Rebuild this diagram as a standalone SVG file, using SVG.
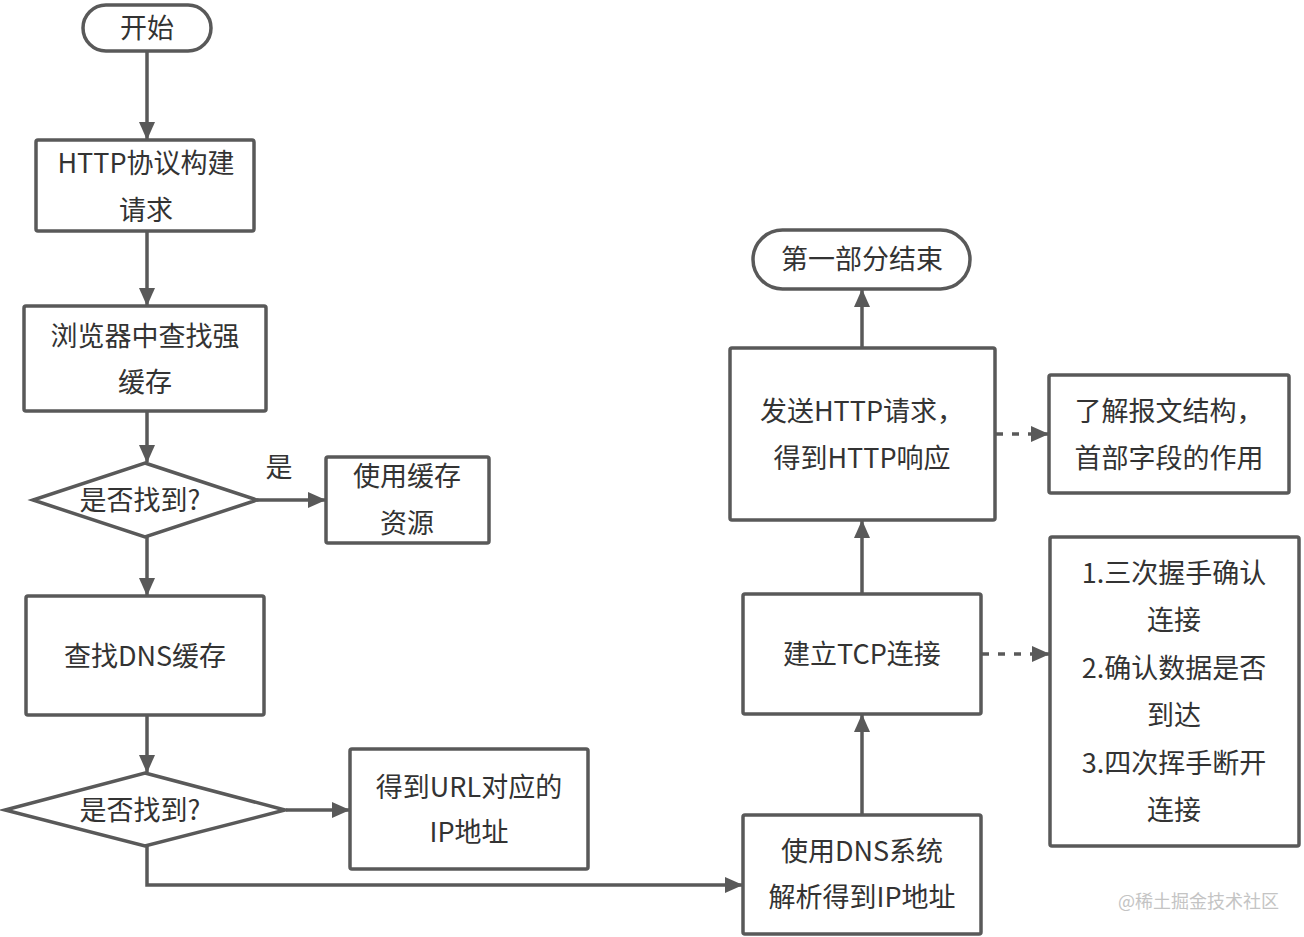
<svg xmlns="http://www.w3.org/2000/svg" width="1304" height="937" viewBox="0 0 1304 937">
<style>
.n{fill:#fff;stroke:#595959;stroke-width:3.5}
.t{font-family:"Noto Sans CJK SC","Noto Sans",sans-serif;font-size:27px;fill:#333;text-anchor:middle;dominant-baseline:central}
.c{fill:none;stroke:#595959;stroke-width:3.5}
.d{stroke-dasharray:7 9}
.wm{font-family:"Noto Sans CJK SC",sans-serif;font-size:18px;fill:#c4c4c4}
</style>
<defs>
<marker id="a" markerUnits="userSpaceOnUse" markerWidth="18" markerHeight="16" refX="17" refY="8" orient="auto">
<path d="M0,0 L18,8 L0,16 Z" fill="#595959"/>
</marker>
</defs>
<g id="connectors">
<path class="c" d="M147,51 V139" marker-end="url(#a)"/>
<path class="c" d="M147,231 V305" marker-end="url(#a)"/>
<path class="c" d="M147,411 V462" marker-end="url(#a)"/>
<path class="c" d="M257,500 H325" marker-end="url(#a)"/>
<path class="c" d="M147,537 V595" marker-end="url(#a)"/>
<path class="c" d="M147,715 V772" marker-end="url(#a)"/>
<path class="c" d="M286,810 H349" marker-end="url(#a)"/>
<path class="c" d="M147,846 V885 H742" marker-end="url(#a)"/>
<path class="c" d="M862,815 V715" marker-end="url(#a)"/>
<path class="c" d="M862,594 V521" marker-end="url(#a)"/>
<path class="c" d="M862,348 V290" marker-end="url(#a)"/>
<path class="c d" d="M982,654 H1049" marker-end="url(#a)"/>
<path class="c d" d="M996,434 H1048" marker-end="url(#a)"/>
<text class="t" x="279" y="465">是</text>
</g>
<g id="start"><rect class="n" x="83" y="5" width="128" height="46" rx="23"/><text class="t" x="147" y="26">开始</text></g>
<g id="build"><rect class="n" x="36" y="140" width="218" height="91" rx="2"/><text class="t" x="146" y="161">HTTP协议构建</text><text class="t" x="146" y="208">请求</text></g>
<g id="strongcache"><rect class="n" x="24" y="306" width="242" height="105" rx="2"/><text class="t" x="145" y="334">浏览器中查找强</text><text class="t" x="145" y="380">缓存</text></g>
<g id="found1"><polygon class="n" points="145,463 257,500 145,537 33,500"/><text class="t" x="140" y="498">是否找到?</text></g>
<g id="usecache"><rect class="n" x="326" y="457" width="163" height="86" rx="2"/><text class="t" x="407" y="474">使用缓存</text><text class="t" x="407" y="521">资源</text></g>
<g id="dnscache"><rect class="n" x="26" y="596" width="238" height="119" rx="2"/><text class="t" x="145" y="654">查找DNS缓存</text></g>
<g id="found2"><polygon class="n" points="145,773 285,810 145,846 5,810"/><text class="t" x="140" y="808">是否找到?</text></g>
<g id="getip"><rect class="n" x="350" y="749" width="238" height="120" rx="2"/><text class="t" x="469" y="785">得到URL对应的</text><text class="t" x="469" y="830">IP地址</text></g>
<g id="dnsresolve"><rect class="n" x="743" y="815" width="238" height="119" rx="2"/><text class="t" x="862" y="849">使用DNS系统</text><text class="t" x="862" y="895">解析得到IP地址</text></g>
<g id="tcp"><rect class="n" x="743" y="594" width="238" height="120" rx="2"/><text class="t" x="862" y="652">建立TCP连接</text></g>
<g id="tcpnote"><rect class="n" x="1050" y="537" width="249" height="309" rx="2"/>
<text class="t" x="1174" y="571">1.三次握手确认</text><text class="t" x="1174" y="618">连接</text>
<text class="t" x="1174" y="666">2.确认数据是否</text><text class="t" x="1174" y="713">到达</text>
<text class="t" x="1174" y="761">3.四次挥手断开</text><text class="t" x="1174" y="808">连接</text></g>
<g id="http"><rect class="n" x="730" y="348" width="265" height="172" rx="2"/><text class="t" x="862" y="409">发送HTTP请求，</text><text class="t" x="862" y="456">得到HTTP响应</text></g>
<g id="httpnote"><rect class="n" x="1049" y="375" width="240" height="118" rx="2"/><text class="t" x="1169" y="409">了解报文结构，</text><text class="t" x="1169" y="456">首部字段的作用</text></g>
<g id="end"><rect class="n" x="753" y="230" width="217" height="59" rx="29.5"/><text class="t" x="862" y="257">第一部分结束</text></g>
<text class="wm" x="1118" y="908">@稀土掘金技术社区</text>
</svg>
